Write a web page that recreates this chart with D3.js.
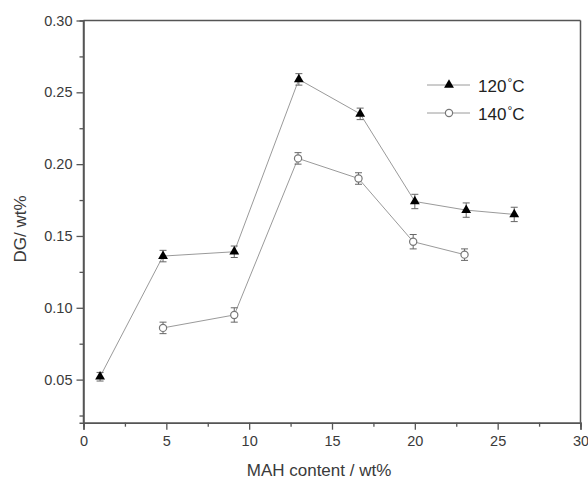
<!DOCTYPE html>
<html><head><meta charset="utf-8">
<script src="https://cdn.jsdelivr.net/npm/d3@7"></script>
<style>body{margin:0;background:#fff}svg{display:block}</style>
</head><body>
<script>
const x120 = [1, 4.8, 9.1, 13, 16.7, 20, 23.1, 26];
const y120 = [0.052, 0.136, 0.139, 0.259, 0.235, 0.174, 0.168, 0.165];
const e120 = [0.003, 0.004, 0.004, 0.004, 0.004, 0.005, 0.005, 0.005];
const x140 = [4.8, 9.1, 12.95, 16.6, 19.9, 23];
const y140 = [0.086, 0.095, 0.204, 0.190, 0.146, 0.137];
const e140 = [0.004, 0.005, 0.004, 0.004, 0.005, 0.004];
const xTicks = [0, 5, 10, 15, 20, 25, 30];
const yTicks = [0.05, 0.10, 0.15, 0.20, 0.25, 0.30];
const xMinor = [2.5, 7.5, 12.5, 17.5, 22.5, 27.5];
const yMinor = [0.025, 0.075, 0.125, 0.175, 0.225, 0.275];
const legendLabels = ["120", "140"];

const W = 588, H = 480;
const svg = d3.select("body").append("svg").attr("width", W).attr("height", H);
const x = d3.scaleLinear().domain([0, 30]).range([83.5, 580.5]);
const y = d3.scaleLinear().domain([0.02, 0.30]).range([422.7, 20.5]);
const axisCol = "#555", textCol = "#3a3a3a";
const font = "Liberation Sans, Arial, sans-serif";

// frame top & right
svg.append("line").attr("x1", x(0)).attr("x2", x(30)).attr("y1", y(0.30)).attr("y2", y(0.30)).attr("stroke", axisCol).attr("stroke-width", 1.5);
svg.append("line").attr("x1", x(30)).attr("x2", x(30)).attr("y1", y(0.30)).attr("y2", y(0.02)).attr("stroke", axisCol).attr("stroke-width", 1.5);

const xAxis = svg.append("g").attr("transform", `translate(0,${y(0.02)})`)
  .call(d3.axisBottom(x).tickValues(xTicks).tickFormat(d3.format("d")).tickSizeOuter(0).tickSize(7).tickPadding(6));
const xMin = svg.append("g").attr("transform", `translate(0,${y(0.02)})`)
  .call(d3.axisBottom(x).tickValues(xMinor).tickFormat("").tickSizeOuter(0).tickSize(4));
const yAxis = svg.append("g").attr("transform", `translate(${x(0)},0)`)
  .call(d3.axisLeft(y).tickValues(yTicks).tickFormat(d3.format(".2f")).tickSizeOuter(0).tickSize(7).tickPadding(4));
const yMin = svg.append("g").attr("transform", `translate(${x(0)},0)`)
  .call(d3.axisLeft(y).tickValues(yMinor).tickFormat("").tickSizeOuter(0).tickSize(4));
[xAxis, xMin, yAxis, yMin].forEach(g => {
  g.select(".domain").attr("stroke", axisCol).attr("stroke-width", 1.5);
  g.selectAll(".tick line").attr("stroke", axisCol).attr("stroke-width", 1.3);
  g.selectAll(".tick text").attr("fill", textCol).style("font-family", font).style("font-size", "14.5px");
});
yAxis.select(".domain").attr("d", `M0,${y(0.30)}V${y(0.02)}`);

// axis titles
svg.append("text").attr("x", 319).attr("y", 476).attr("text-anchor", "middle")
  .style("font-family", font).style("font-size", "17px").attr("fill", textCol).text("MAH content / wt%");
svg.append("text").attr("transform", "translate(26,229) rotate(-90)").attr("text-anchor", "middle")
  .style("font-family", font).style("font-size", "17px").attr("fill", textCol).text("DG/ wt%");

const lineCol = "#9a9a9a", errCol = "#666";
const line = d3.line().x(d => x(d[0])).y(d => y(d[1]));
function series(xs, ys, es, kind) {
  const pts = xs.map((v, i) => [v, ys[i], es[i]]);
  svg.append("path").datum(pts).attr("d", line).attr("fill", "none").attr("stroke", lineCol).attr("stroke-width", 1);
  const g = svg.append("g");
  pts.forEach(p => {
    const cx = x(p[0]);
    g.append("line").attr("x1", cx).attr("x2", cx).attr("y1", y(p[1] - p[2])).attr("y2", y(p[1] + p[2])).attr("stroke", errCol).attr("stroke-width", 1);
    [p[1] - p[2], p[1] + p[2]].forEach(v => g.append("line").attr("x1", cx - 3.5).attr("x2", cx + 3.5).attr("y1", y(v)).attr("y2", y(v)).attr("stroke", errCol).attr("stroke-width", 1));
    if (kind === "tri") {
      g.append("path").attr("d", d3.symbol(d3.symbolTriangle, 42)()).attr("transform", `translate(${cx},${y(p[1])})`).attr("fill", "#000");
    } else {
      g.append("circle").attr("cx", cx).attr("cy", y(p[1])).attr("r", 3.6).attr("fill", "#fff").attr("stroke", "#777").attr("stroke-width", 1.2);
    }
  });
}
series(x120, y120, e120, "tri");
series(x140, y140, e140, "circ");

// legend
const ly = [85, 113];
legendLabels.forEach((lab, i) => {
  svg.append("line").attr("x1", 427).attr("x2", 470).attr("y1", ly[i]).attr("y2", ly[i]).attr("stroke", lineCol).attr("stroke-width", 1);
  if (i === 0) svg.append("path").attr("d", d3.symbol(d3.symbolTriangle, 42)()).attr("transform", `translate(449,${ly[i]})`).attr("fill", "#000");
  else svg.append("circle").attr("cx", 449).attr("cy", ly[i]).attr("r", 3.6).attr("fill", "#fff").attr("stroke", "#777").attr("stroke-width", 1.2);
  const t = svg.append("text").attr("x", 478).attr("y", ly[i] + 6.5).style("font-family", font).style("font-size", "17px").attr("fill", "#222");
  t.append("tspan").text(lab);
  t.append("tspan").attr("dy", -5).attr("dx", 1).style("font-size", "12px").text("°");
  t.append("tspan").attr("dy", 5).text("C");
});
</script>
</body></html>
